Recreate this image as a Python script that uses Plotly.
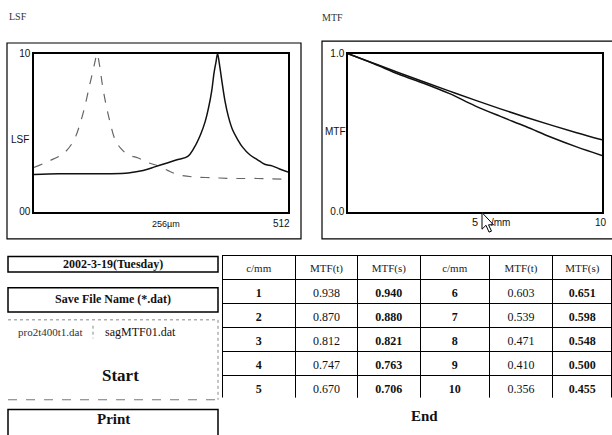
import plotly.graph_objects as go

# ---------------- data ----------------
lsf_x_dashed = [0, 30, 60, 80, 95, 105, 112, 118, 123, 127, 132, 138, 145, 153, 163, 175, 190, 210,
                230, 250, 270, 290, 320, 360, 400, 450, 512]
lsf_y_dashed = [0.28, 0.32, 0.37, 0.45, 0.58, 0.70, 0.80, 0.88, 0.95, 1.00, 0.93, 0.80, 0.68, 0.57,
                0.46, 0.40, 0.36, 0.34, 0.31, 0.29, 0.26, 0.235, 0.22, 0.215, 0.21, 0.21, 0.205]

lsf_x_solid = [0, 50, 100, 150, 190, 220, 245, 270, 290, 310, 322, 336, 345, 352, 358, 363, 367, 370,
               374, 379, 385, 392, 400, 410, 420, 435, 450, 465, 480, 495, 512]
lsf_y_solid = [0.235, 0.24, 0.24, 0.24, 0.245, 0.26, 0.285, 0.31, 0.33, 0.35, 0.40, 0.49, 0.57, 0.66,
               0.76, 0.88, 0.95, 1.00, 0.93, 0.82, 0.70, 0.60, 0.52, 0.46, 0.41, 0.36, 0.33, 0.30,
               0.29, 0.27, 0.25]

c_per_mm = [1, 2, 3, 4, 5, 6, 7, 8, 9, 10]
mtf_t = [0.938, 0.870, 0.812, 0.747, 0.670, 0.603, 0.539, 0.471, 0.410, 0.356]
mtf_s = [0.940, 0.880, 0.821, 0.763, 0.706, 0.651, 0.598, 0.548, 0.500, 0.455]

header_labels = ["c/mm", "MTF(t)", "MTF(s)", "c/mm", "MTF(t)", "MTF(s)"]
date_text = "2002-3-19(Tuesday)"
save_text = "Save File Name (*.dat)"
file_t = "pro2t400t1.dat"
file_s = "sagMTF01.dat"

W, H = 612, 435
def px(x): return x / W
def py(y): return 1 - y / H

SERIF = "Liberation Serif"
SANS = "Liberation Sans"

fig = go.Figure()

# LSF traces
fig.add_trace(go.Scatter(x=lsf_x_dashed, y=lsf_y_dashed, mode="lines", line=dict(color="#666", width=1.2, dash="dash", shape="spline"),
                         xaxis="x", yaxis="y", showlegend=False))
fig.add_trace(go.Scatter(x=lsf_x_solid, y=lsf_y_solid, mode="lines", line=dict(color="#111", width=1.5, shape="spline"),
                         xaxis="x", yaxis="y", showlegend=False))

# MTF traces
mtf_x = [0] + c_per_mm
fig.add_trace(go.Scatter(x=mtf_x, y=[1.0] + mtf_t, mode="lines", line=dict(color="#111", width=1.5, shape="spline"),
                         xaxis="x2", yaxis="y2", showlegend=False))
fig.add_trace(go.Scatter(x=mtf_x, y=[1.0] + mtf_s, mode="lines", line=dict(color="#111", width=1.5, shape="spline"),
                         xaxis="x2", yaxis="y2", showlegend=False))

# Table
cells = [
    c_per_mm[:5],
    ["%.3f" % v for v in mtf_t[:5]],
    ["%.3f" % v for v in mtf_s[:5]],
    c_per_mm[5:],
    ["%.3f" % v for v in mtf_t[5:]],
    ["%.3f" % v for v in mtf_s[5:]],
]
fig.add_trace(go.Table(
    domain=dict(x=[px(222), px(612)], y=[py(403), py(257)]),
    columnwidth=[73, 62, 62, 69, 63, 59],
    header=dict(values=header_labels, height=24, align="center",
                fill_color="white", line=dict(color="black", width=1),
                font=dict(family=SERIF, size=11, color="#222")),
    cells=dict(values=cells, height=24, align="center",
               fill_color="white", line=dict(color="black", width=1),
               font=dict(family=SERIF, size=12, color="#111",
                         weight=["bold", "normal", "bold", "bold", "normal", "bold"])),
))

axis_common = dict(showline=True, linecolor="black", linewidth=1.5, mirror=True, showgrid=False,
                   zeroline=False, ticks="", fixedrange=True)

fig.update_layout(
    width=W, height=H, margin=dict(l=0, r=0, t=0, b=0),
    paper_bgcolor="white", plot_bgcolor="white",
    xaxis=dict(domain=[px(34), px(288)], range=[0, 512], showticklabels=False, **axis_common),
    yaxis=dict(domain=[py(212), py(50)], range=[0, 1], tickvals=[0, 1], ticktext=["00", "10"],
               tickfont=dict(family=SANS, size=10, color="#111"), **axis_common),
    xaxis2=dict(domain=[px(348), px(602)], range=[0, 10], showticklabels=False, anchor="y2", **axis_common),
    yaxis2=dict(domain=[py(212), py(50)], range=[0, 1], tickvals=[0, 1], ticktext=["0.0", "1.0"],
                tickfont=dict(family=SANS, size=10, color="#111"), anchor="x2", **axis_common),
)

shapes = []
def rect(x0, y0, x1, y1, width=1.5, dash="solid", color="black"):
    shapes.append(dict(type="rect", xref="paper", yref="paper", x0=px(x0), x1=px(x1), y0=py(y1), y1=py(y0),
                       line=dict(color=color, width=width, dash=dash), layer="below"))
def hline(x0, x1, y, width=1, dash="solid", color="black"):
    shapes.append(dict(type="line", xref="paper", yref="paper", x0=px(x0), x1=px(x1), y0=py(y), y1=py(y),
                       line=dict(color=color, width=width, dash=dash)))
def vline(x, y0, y1, width=1, dash="solid", color="black"):
    shapes.append(dict(type="line", xref="paper", yref="paper", x0=px(x), x1=px(x), y0=py(y0), y1=py(y1),
                       line=dict(color=color, width=width, dash=dash)))

rect(7, 39, 301, 240, width=1.2)
rect(322, 37, 614, 240, width=1.2)
rect(8, 258, 218, 274)
rect(8, 290, 218, 315)
hline(8, 218, 323, width=1, dash="dot", color="#888")
vline(218, 323, 405, width=1, dash="dot", color="#888")
vline(93, 329, 342, width=1, dash="dot", color="#888")
hline(8, 218, 405, width=1, dash="dash", color="#777")
rect(8, 415, 218, 445)

# mouse cursor
cur = [(482, 213), (482, 230), (486, 226), (489, 233), (491.5, 232), (488.5, 225.5), (493.5, 225.5)]
path = "M " + " L ".join("%f,%f" % (px(x), py(y)) for x, y in cur) + " Z"
shapes.append(dict(type="path", xref="paper", yref="paper", path=path,
                   fillcolor="white", line=dict(color="black", width=1), layer="above"))

annotations = []
def text(x, y, s, size=12, family=SERIF, color="#111", xanchor="center", xref="paper"):
    annotations.append(dict(x=(px(x) if xref == "paper" else x), y=py(y), xref=xref, yref="paper", text=s,
                            showarrow=False, xanchor=xanchor, yanchor="middle",
                            font=dict(family=family, size=size, color=color)))

text(7, 12, "LSF", size=10, color="#333", xanchor="left")
text(320, 13, "MTF", size=10, color="#333", xanchor="left")
text(9, 138, "LSF", size=10, family=SANS, xanchor="left")
text(323, 130, "MTF", size=10, family=SANS, xanchor="left")
text(166, 225, "256µm", size=9, family=SANS)
text(292, 224, "512", size=10, family=SANS, xanchor="right")
text(5, 223, "5", size=11, family=SANS, xref="x2")
text(489, 223, "/mm", size=10, family=SANS, xanchor="left")
text(609, 223, "10", size=10, family=SANS, xanchor="right")

text(113, 266, "<b>%s</b>" % date_text, size=12)
text(113, 302, "<b>%s</b>" % save_text, size=12)
text(50, 335, file_t, size=11, color="#333")
text(140, 335, file_s, size=12)
text(120, 380, "<b>Start</b>", size=17)
text(113, 425, "<b>Print</b>", size=15)
text(424, 422, "<b>End</b>", size=15)

fig.update_layout(shapes=shapes, annotations=annotations)

fig.write_html("out.html")
